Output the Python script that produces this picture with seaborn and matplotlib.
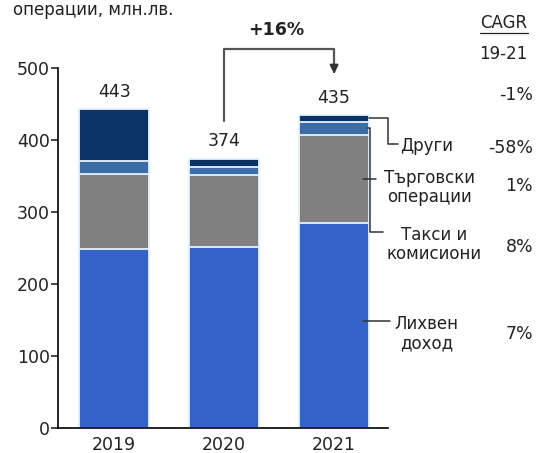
import pandas as pd
import matplotlib.pyplot as plt
import seaborn as sns

# данни (млн. лв.)
years = ["2019", "2020", "2021"]
layers = ["Лихвен доход", "Такси и комисиони", "Търговски операции", "Други"]
interest = [248, 251, 285]
fees = [105, 100, 122]
trading = [18, 12, 18]
other = [72, 11, 10]
totals = [443, 374, 435]
growth_label = "+16%"
cagr_labels = ["-1%", "-58%", "1%", "8%", "7%"]

colors = ["#3362C9", "#808080", "#3A6CA6", "#0B3366"]
edge = "#E6F3FF"
text_color = "#222222"

sns.set_style("white")
plt.rcParams['font.family'] = ['DejaVu Sans']

df = pd.DataFrame({"year": years, "Лихвен доход": interest, "Такси и комисиони": fees,
                   "Търговски операции": trading, "Други": other})
cum = df[layers].cumsum(axis=1)
cum["year"] = years

fig = plt.figure(figsize=(5.4, 4.53), dpi=100)
ax = fig.add_axes([58 / 540, 25 / 453, 330 / 540, 360 / 453])

# стекове: рисуваме от най-горния към най-долния слой
for layer, col in zip(reversed(layers), reversed(colors)):
    sns.barplot(data=cum, x="year", y=layer, color=col, width=0.64,
                edgecolor=edge, linewidth=1.3, saturation=1, ax=ax)

fs = 12.5
ax.set_xlim(-0.51, 2.49)
ax.set_ylim(0, 500)
ax.set_yticks(range(0, 501, 100))
ax.set_xlabel("")
ax.set_ylabel("")
sns.despine(ax=ax)
for s in ["left", "bottom"]:
    ax.spines[s].set_color("black")
    ax.spines[s].set_linewidth(1.2)
ax.tick_params(axis="y", left=True, length=5, width=1.2, pad=1, labelsize=fs, labelcolor=text_color)
ax.tick_params(axis="x", bottom=False, pad=2, labelsize=fs, labelcolor=text_color)

# стойности над колоните
for i, t in enumerate(totals):
    ax.text(i, t + 24, str(t), ha="center", va="center", fontsize=fs, color=text_color)

# скоба +16%
line_kw = dict(color="#555555", lw=1.6, clip_on=False)
ax.plot([1, 1, 2, 2], [427, 527, 527, 500], **line_kw)
ax.annotate("", xy=(2, 488), xytext=(2, 502),
            arrowprops=dict(arrowstyle="-|>", color="#333333", lw=1.6, mutation_scale=12),
            annotation_clip=False)
ax.text(1.47, 553, growth_label, ha="center", va="center", fontsize=fs,
        fontweight="bold", color=text_color)

# етикети на слоевете със свързващи линии
lk = dict(color="#333333", lw=1.1, clip_on=False)
edge_x = 2 + 0.32
top_other = totals[2] - other[2] / 2
ax.plot([edge_x, 2.49, 2.49, 2.58], [top_other, top_other, 395, 395], **lk)
ax.text(2.6, 392, layers[3], ha="left", va="center", fontsize=fs - 0.5, color=text_color)

mid_trading = cum.loc[2, "Търговски операции"] - trading[2] / 2
ax.plot([edge_x - 0.02, edge_x + 0.01, edge_x + 0.01, 2.44],
        [mid_trading, mid_trading, 272, 272], **lk)
ax.plot([2.26, 2.38], [346, 346], **lk)
ax.text(2.87, 334, "Търговски\nоперации", ha="center", va="center", fontsize=fs - 0.5,
        color=text_color, linespacing=1.1)
ax.text(2.91, 255, "Такси и\nкомисиони", ha="center", va="center", fontsize=fs - 0.5,
        color=text_color, linespacing=1.1)

ax.plot([2.26, 2.51], [148, 148], **lk)
ax.text(2.84, 131, "Лихвен\nдоход", ha="center", va="center", fontsize=fs - 0.5,
        color=text_color, linespacing=1.1)

# CAGR колона
ax.text(3.76, 563, "CAGR", ha="right", va="center", fontsize=fs - 0.5, color=text_color)
ax.plot([3.33, 3.76], [549, 549], color=text_color, lw=0.9, clip_on=False)
ax.text(3.76, 520, "19-21", ha="right", va="center", fontsize=fs - 0.5, color=text_color)
for lab, yv in zip(cagr_labels, [463, 389, 336, 252, 130]):
    ax.text(3.81, yv, lab, ha="right", va="center", fontsize=fs, color=text_color)

fig.text(13 / 540, 1 - 1 / 453, "операции, млн.лв.", ha="left", va="top",
         fontsize=fs - 0.5, color=text_color)

fig.savefig("out.png", dpi=100)
